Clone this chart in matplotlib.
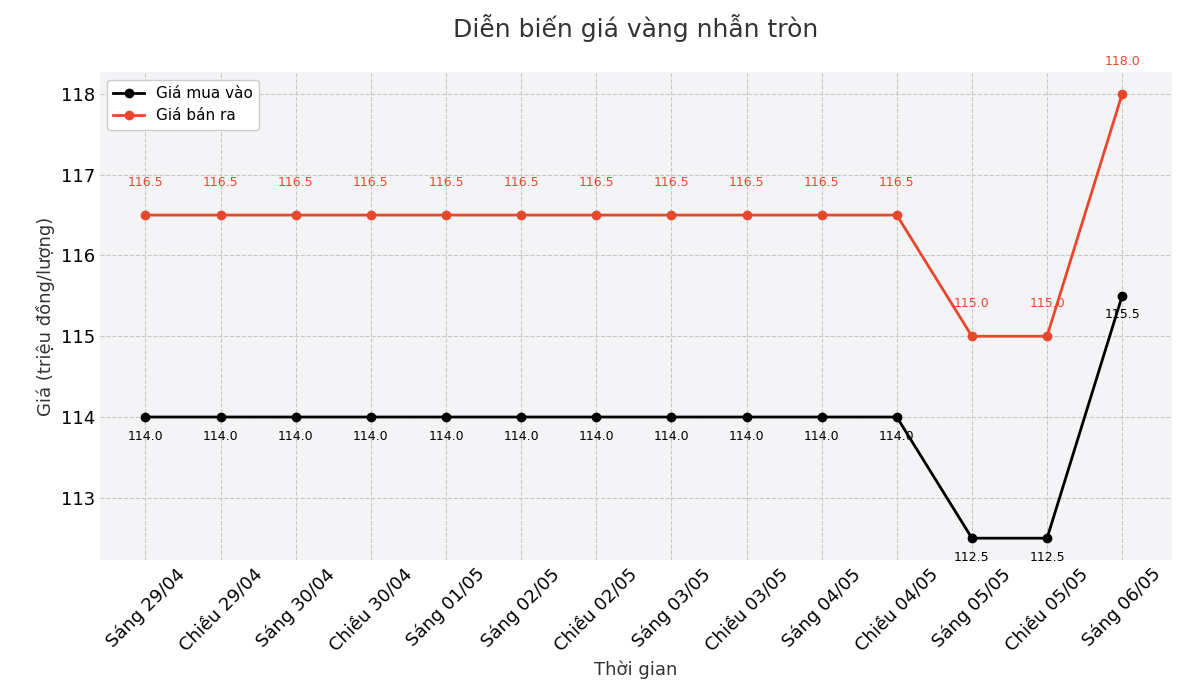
import matplotlib
matplotlib.use("Agg")
import matplotlib.pyplot as plt

times = ['Sáng 29/04', 'Chiều 29/04', 'Sáng 30/04', 'Chiều 30/04', 'Sáng 01/05',
         'Sáng 02/05', 'Chiều 02/05', 'Sáng 03/05', 'Chiều 03/05', 'Sáng 04/05',
         'Chiều 04/05', 'Sáng 05/05', 'Chiều 05/05', 'Sáng 06/05']
buy = [114.0] * 11 + [112.5, 112.5, 115.5]
sell = [116.5] * 11 + [115.0, 115.0, 118.0]

red = '#e8472c'
fig, ax = plt.subplots(figsize=(11.86, 7), dpi=100)
fig.subplots_adjust(left=0.084, right=0.988, top=0.897, bottom=0.2)
ax.set_facecolor('#f4f3f6')
for s in ax.spines.values():
    s.set_visible(False)
ax.grid(True, linestyle='--', color='#c8c8c8', linewidth=0.8)
ax.set_axisbelow(True)

x = range(len(times))
ax.plot(x, buy, color='black', marker='o', linewidth=2, label='Giá mua vào')
ax.plot(x, sell, color=red, marker='o', linewidth=2, label='Giá bán ra')
for i in x:
    ax.annotate(f'{sell[i]:.1f}', (i, sell[i]), xytext=(0, 28), textcoords='offset points',
                ha='center', va='top', fontsize=9, color=red)
    ax.annotate(f'{buy[i]:.1f}', (i, buy[i]), xytext=(0, -9), textcoords='offset points',
                ha='center', va='top', fontsize=9, color='black')

ax.set_xlim(-0.61, 13.66)
ax.set_ylim(112.23, 118.27)
ax.set_xticks(list(x))
ax.set_xticklabels(times, rotation=45, ha='center', fontsize=13)
ax.tick_params(axis='y', labelsize=13)
ax.tick_params(length=0)
ax.set_title('Diễn biến giá vàng nhẫn tròn', fontsize=18, color='#333333', pad=25)
ax.set_xlabel('Thời gian', fontsize=13, color='#333333')
ax.set_ylabel('Giá (triệu đồng/lượng)', fontsize=13, color='#333333')
ax.legend(loc='upper left', fontsize=11, framealpha=1)
fig.savefig('out.png', dpi=100)
